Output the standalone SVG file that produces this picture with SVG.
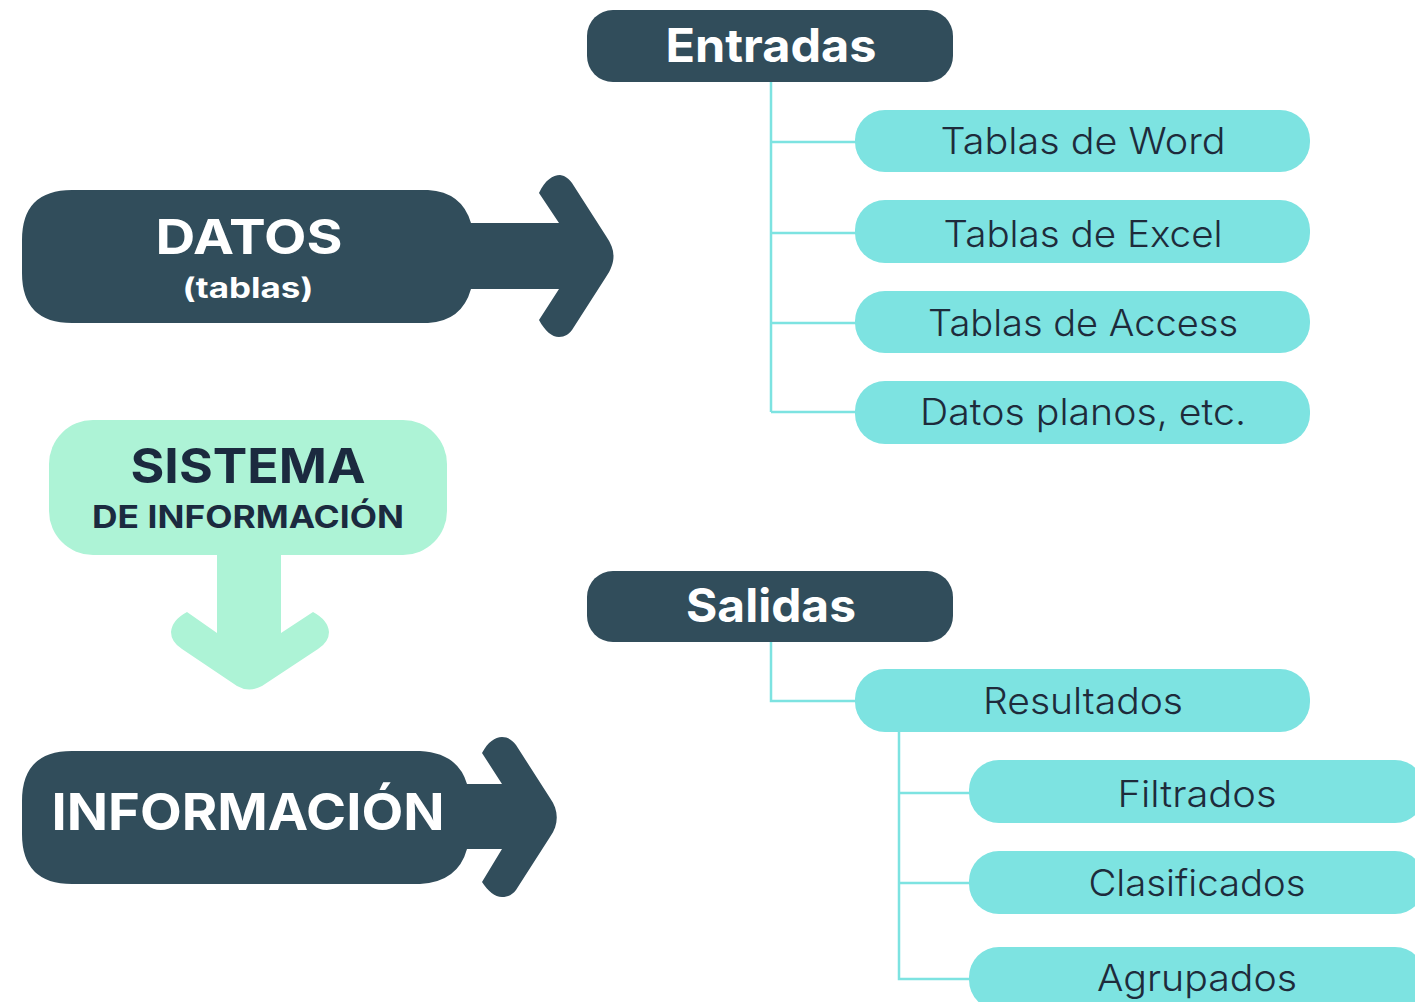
<svg xmlns="http://www.w3.org/2000/svg" width="1415" height="1002" viewBox="0 0 1415 1002">
<style>
.dark{fill:#314d5b}
.cyan{fill:#7de3e1}
.mint{fill:#adf3d6}
.t{font-family:Inter,"Noto Sans","Liberation Sans",sans-serif;text-anchor:middle}
.wb{fill:#ffffff;font-weight:700}
.nb{fill:#1b2a3f;font-weight:700}
.item{fill:#1e2b3b;font-weight:300;font-size:37px}
.conn{fill:none;stroke:#7de3e1;stroke-width:2.5}
</style>
<rect width="1415" height="1002" fill="#ffffff"/>
<g id="connectors">
<path class="conn" d="M771,82 V412 M771,142 H857 M771,233 H857 M771,323 H857 M771,412 H857"/>
<path class="conn" d="M771,642 V701 H857"/>
<path class="conn" d="M899,732 V979 H971 M899,793 H971 M899,883 H971"/>
</g>
<g id="datos">
<path class="dark" d="M72,190 H428 Q462,192 471,223 H559 L539,193 C545,180 553,175 560,175 C566,176 569,179 572,183 L606,236 C616,250 616,262 606,277 L572,330 C569,334 565,337 559,337 C552,337 545,331 539,320 L559,289 H471 Q462,321 428,323 H72 Q22,323 22,273 V240 Q22,190 72,190 Z"/>
<text class="t wb" x="249" y="254" font-size="48" textLength="187" lengthAdjust="spacingAndGlyphs">DATOS</text>
<text class="t wb" x="248" y="298" font-size="28" textLength="131" lengthAdjust="spacingAndGlyphs">(tablas)</text>
</g>
<g id="sistema">
<rect class="mint" x="49" y="420" width="398" height="135" rx="44"/>
<path class="mint" d="M217,550 V633 L187,612 Q172,620 171,632 Q171,642 182,649 L237,686 Q249,693 262,686 L318,649 Q329,642 329,632 Q328,620 313,612 L281,633 V550 Z"/>
<text class="t nb" x="248" y="483" font-size="48" textLength="235" lengthAdjust="spacingAndGlyphs">SISTEMA</text>
<text class="t nb" x="248" y="528" font-size="31" textLength="312" lengthAdjust="spacingAndGlyphs">DE INFORMACIÓN</text>
</g>
<g id="informacion">
<path class="dark" d="M72,751 H420 Q458,753 467,784 H502 L482,753 C488,742 495,737 502,737 C508,737 512,740 516,745 L550,798 C559,810 559,825 550,837 L516,890 C512,895 508,897 502,897 C495,897 488,891 482,882 L502,849 H467 Q458,882 420,884 H72 Q22,884 22,834 V801 Q22,751 72,751 Z"/>
<text class="t wb" x="248" y="830" font-size="51" textLength="393" lengthAdjust="spacingAndGlyphs">INFORMACIÓN</text>
</g>
<g id="entradas">
<rect class="dark" x="587" y="10" width="366" height="72" rx="26"/>
<text class="t wb" x="771" y="62" font-size="46" textLength="211" lengthAdjust="spacingAndGlyphs">Entradas</text>
</g>
<g id="word">
<rect class="cyan" x="855" y="110" width="455" height="62" rx="30"/>
<text class="t item" x="1083" y="154" textLength="285" lengthAdjust="spacingAndGlyphs">Tablas de Word</text>
</g>
<g id="excel">
<rect class="cyan" x="855" y="200" width="455" height="63" rx="30"/>
<text class="t item" x="1083" y="247" textLength="279" lengthAdjust="spacingAndGlyphs">Tablas de Excel</text>
</g>
<g id="access">
<rect class="cyan" x="855" y="291" width="455" height="62" rx="30"/>
<text class="t item" x="1083" y="336" textLength="310" lengthAdjust="spacingAndGlyphs">Tablas de Access</text>
</g>
<g id="planos">
<rect class="cyan" x="855" y="381" width="455" height="63" rx="30"/>
<text class="t item" x="1083" y="425" textLength="326" lengthAdjust="spacingAndGlyphs">Datos planos, etc.</text>
</g>
<g id="salidas">
<rect class="dark" x="587" y="571" width="366" height="71" rx="26"/>
<text class="t wb" x="771" y="622" font-size="46" textLength="170" lengthAdjust="spacingAndGlyphs">Salidas</text>
</g>
<g id="resultados">
<rect class="cyan" x="855" y="669" width="455" height="63" rx="30"/>
<text class="t item" x="1083" y="714" textLength="200" lengthAdjust="spacingAndGlyphs">Resultados</text>
</g>
<g id="filtrados">
<rect class="cyan" x="969" y="760" width="456" height="63" rx="30"/>
<text class="t item" x="1197" y="807" textLength="159" lengthAdjust="spacingAndGlyphs">Filtrados</text>
</g>
<g id="clasificados">
<rect class="cyan" x="969" y="851" width="456" height="63" rx="30"/>
<text class="t item" x="1197" y="896" textLength="217" lengthAdjust="spacingAndGlyphs">Clasificados</text>
</g>
<g id="agrupados">
<rect class="cyan" x="969" y="947" width="456" height="63" rx="30"/>
<text class="t item" x="1197" y="991" textLength="200" lengthAdjust="spacingAndGlyphs">Agrupados</text>
</g>
</svg>
